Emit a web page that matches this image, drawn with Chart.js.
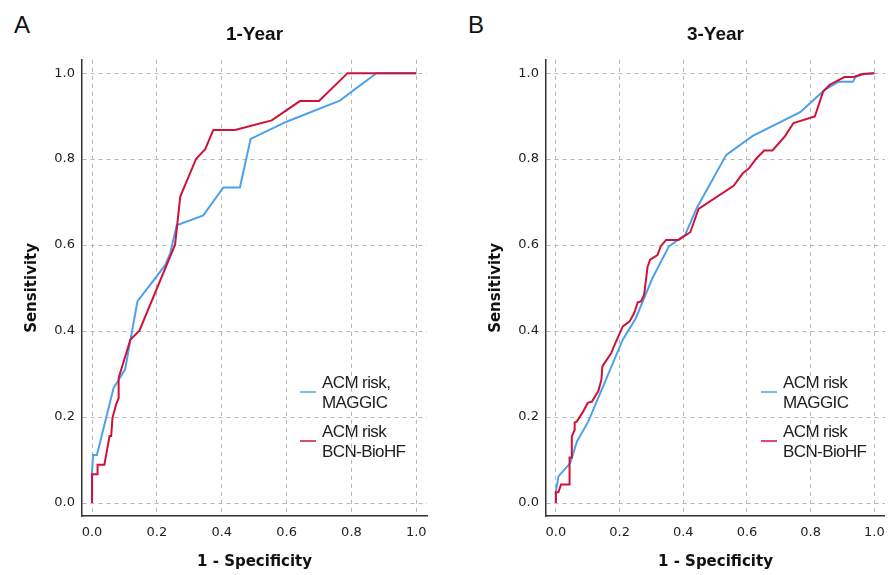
<!DOCTYPE html>
<html>
<head>
<meta charset="utf-8">
<script src="https://cdn.jsdelivr.net/npm/chart.js@4/dist/chart.umd.min.js"></script>
<style>
	body { margin: 0; background: #fff; }
	#wrap { position: relative; width: 894px; height: 575px; overflow: hidden; }
	canvas { position: absolute; top: 0; }
	.letra { position: absolute; top: 13px; font: 24px/24px "Liberation Sans", Arial, sans-serif; color: #111; }
	.leyenda { position: absolute; top: 373px; font: 17px/20px "Liberation Sans", Arial, sans-serif; letter-spacing: -0.6px; color: #222; }
	.item { position: relative; padding-left: 22px; margin-bottom: 9px; }
	.linea { position: absolute; left: 0; top: 18px; width: 16px; height: 2px; }
</style>
</head>
<body>
<div id="wrap">
	<div class="letra" style="left: 14px;">A</div>
	<div class="letra" style="left: 468px;">B</div>
	<canvas id="graficaA" width="447" height="575" style="left: 0px;"></canvas>
	<canvas id="graficaB" width="430" height="575" style="left: 464px;"></canvas>
	<div class="leyenda" id="leyendaA" style="left: 300px;"></div>
	<div class="leyenda" id="leyendaB" style="left: 761px;"></div>
</div>
<script>
const ticksEje = [0, 0.2, 0.4, 0.6, 0.8, 1.0];

// 1 año
const xMaggic1 = [0, 0, 0.003, 0.015, 0.066, 0.102, 0.14, 0.226, 0.241, 0.261, 0.343, 0.405, 0.456, 0.489, 0.6, 0.764, 0.877, 1.0];
const yMaggic1 = [0, 0.07, 0.112, 0.112, 0.267, 0.311, 0.469, 0.554, 0.581, 0.646, 0.669, 0.734, 0.734, 0.847, 0.887, 0.936, 1.0, 1.0];
const xBcn1 = [0, 0, 0.017, 0.017, 0.038, 0.054, 0.059, 0.063, 0.074, 0.082, 0.082, 0.118, 0.146, 0.256, 0.272, 0.321, 0.349, 0.374, 0.441, 0.554, 0.641, 0.70, 0.788, 1.0];
const yBcn1 = [0, 0.067, 0.067, 0.089, 0.089, 0.156, 0.156, 0.198, 0.229, 0.244, 0.291, 0.38, 0.401, 0.601, 0.713, 0.801, 0.823, 0.868, 0.868, 0.89, 0.935, 0.935, 1.0, 1.0];

// 3 años
const xMaggic3 = [0, 0, 0.008, 0.045, 0.066, 0.102, 0.21, 0.251, 0.303, 0.355, 0.406, 0.442, 0.535, 0.618, 0.767, 0.844, 0.888, 0.932, 0.942, 0.968, 1.0];
const yMaggic3 = [0, 0.027, 0.062, 0.093, 0.143, 0.19, 0.38, 0.43, 0.523, 0.597, 0.624, 0.686, 0.81, 0.854, 0.909, 0.961, 0.98, 0.98, 0.992, 0.998, 1.0];
const xBcn3 = [0, 0, 0.008, 0.016, 0.043, 0.043, 0.05, 0.05, 0.059, 0.059, 0.066, 0.084, 0.1, 0.113, 0.133, 0.143, 0.146, 0.174, 0.182, 0.21, 0.231, 0.246, 0.257, 0.267, 0.277, 0.288, 0.296, 0.319, 0.329, 0.346, 0.385, 0.422, 0.448, 0.558, 0.587, 0.607, 0.63, 0.654, 0.68, 0.719, 0.746, 0.813, 0.839, 0.86, 0.906, 0.935, 0.963, 1.0];
const yBcn3 = [0, 0.025, 0.025, 0.043, 0.043, 0.106, 0.106, 0.155, 0.17, 0.187, 0.19, 0.211, 0.233, 0.236, 0.26, 0.287, 0.318, 0.349, 0.364, 0.411, 0.422, 0.442, 0.467, 0.469, 0.484, 0.55, 0.566, 0.577, 0.597, 0.612, 0.612, 0.63, 0.684, 0.738, 0.767, 0.779, 0.802, 0.82, 0.82, 0.853, 0.884, 0.899, 0.957, 0.973, 0.991, 0.991, 0.998, 1.0];

const etiquetasA = [["ACM risk,", "MAGGIC"], ["ACM risk", "BCN-BioHF"]];
const etiquetasB = [["ACM risk", "MAGGIC"], ["ACM risk", "BCN-BioHF"]];

const colorMaggic = "rgb(77, 161, 234)";
const colorBcn = "rgb(208, 18, 58)";
const colorGrid = "#b8b8b8";

Chart.defaults.font.family = "'DejaVu Sans', sans-serif";
Chart.defaults.color = "#222";

function puntos(xs, ys) {
	return xs.map((x, i) => {
		return { x: x, y: ys[i] };
	});
}

function ejeBase(titulo) {
	return {
		type: "linear",
		afterBuildTicks: (s) => {
			s.ticks = ticksEje.map((v) => ({ value: v }));
		},
		ticks: {
			font: { size: 13 },
			color: "#222",
			callback: (v) => v.toFixed(1),
		},
		grid: { color: colorGrid, lineWidth: 1, drawTicks: false },
		border: { display: true, color: "#333", width: 1.5, dash: [4, 4] },
		title: {
			display: true,
			text: titulo,
			color: "#111",
			font: { size: 15, weight: "bold" },
		},
	};
}

function crearGrafica(id, titulo, series, padDerecha) {
	let ejeX = ejeBase("1 - Specificity");
	ejeX.min = -0.031;
	ejeX.max = 1.033;
	ejeX.ticks.padding = 9;
	ejeX.title.padding = { top: 0, bottom: 4 };
	ejeX.afterFit = (s) => {
		s.height = 59;
	};

	let ejeY = ejeBase("Sensitivity");
	ejeY.min = -0.03;
	ejeY.max = 1.031;
	ejeY.ticks.padding = 7;
	ejeY.title.padding = { top: 23, bottom: 0 };
	ejeY.afterFit = (s) => {
		s.width = 82;
	};

	let ctx = document.getElementById(id);
	return new Chart(ctx, {
		type: "scatter",
		data: {
			datasets: series.map((s) => {
				return {
					label: s.etiqueta.join(" "),
					data: puntos(s.x, s.y),
					showLine: true,
					borderColor: s.color,
					backgroundColor: s.color,
					borderWidth: 2,
					pointRadius: 0,
					pointHoverRadius: 0,
					tension: 0,
					order: s.orden,
				};
			}),
		},
		options: {
			responsive: false,
			animation: false,
			devicePixelRatio: 1,
			layout: { padding: { left: 0, right: padDerecha, top: 0, bottom: 0 } },
			plugins: {
				legend: { display: false },
				tooltip: { enabled: false },
				title: {
					display: true,
					text: titulo,
					color: "#111",
					fullSize: false,
					font: { family: "'Liberation Sans', Arial, sans-serif", size: 19, weight: "bold" },
					padding: { top: 23, bottom: 14 },
				},
			},
			scales: { x: ejeX, y: ejeY },
		},
	});
}

function crearLeyenda(id, series) {
	let caja = document.getElementById(id);
	series.forEach((s) => {
		let item = document.createElement("div");
		item.className = "item";
		item.innerHTML = `<span class="linea" style="background:${s.color}; opacity:0.75"></span>${s.etiqueta.join("<br>")}`;
		caja.appendChild(item);
	});
}

let seriesA = [
	{ etiqueta: etiquetasA[0], x: xMaggic1, y: yMaggic1, color: colorMaggic, orden: 1 },
	{ etiqueta: etiquetasA[1], x: xBcn1, y: yBcn1, color: colorBcn, orden: 0 },
];
let seriesB = [
	{ etiqueta: etiquetasB[0], x: xMaggic3, y: yMaggic3, color: colorMaggic, orden: 1 },
	{ etiqueta: etiquetasB[1], x: xBcn3, y: yBcn3, color: colorBcn, orden: 0 },
];

crearGrafica("graficaA", "1-Year", seriesA, 20);
crearGrafica("graficaB", "3-Year", seriesB, 3);
crearLeyenda("leyendaA", seriesA);
crearLeyenda("leyendaB", seriesB);
</script>
</body>
</html>
